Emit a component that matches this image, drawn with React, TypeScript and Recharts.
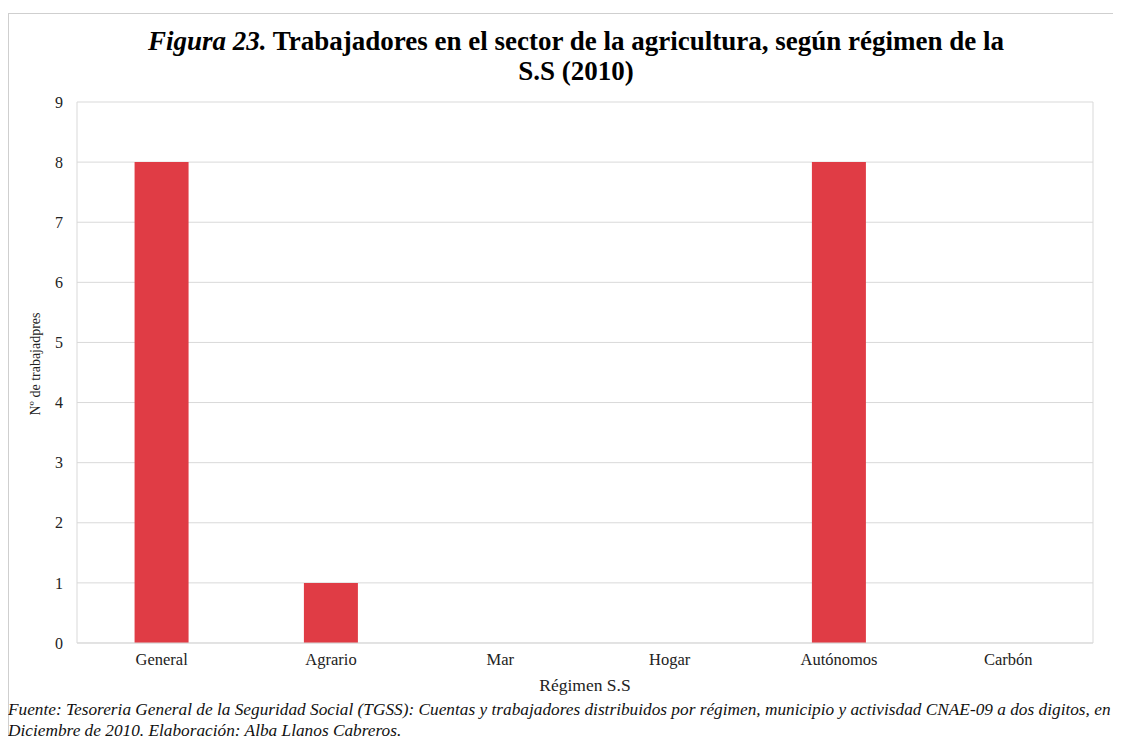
import React from 'react';
import { BarChart, Bar, XAxis, YAxis, CartesianGrid } from 'recharts';

// Régimen de la S.S and number of workers (2010)
const categories = ['General', 'Agrario', 'Mar', 'Hogar', 'Autónomos', 'Carbón'];
const workers = [8, 1, 0, 0, 8, 0];
const yTicks = [0, 1, 2, 3, 4, 5, 6, 7, 8, 9];

const data = categories.map((name, i) => ({ name, value: workers[i] }));

const SERIF = '"Liberation Serif", "Times New Roman", serif';
const BAR_COLOR = '#E03C45';
const GRID = '#d9d9d9';

export default function App() {
  return (
    <div style={{ paddingTop: 5, fontFamily: SERIF }}>
      <div
        style={{
          position: 'relative',
          width: 1112,
          height: 722,
          borderTop: '1px solid #cfcfcf',
          borderLeft: '1px solid #cfcfcf',
        }}
      >
        <div
          style={{
            position: 'absolute',
            left: 17,
            top: 12,
            width: 1100,
            textAlign: 'center',
            fontSize: 27,
            fontWeight: 'bold',
            lineHeight: '30px',
            color: '#000',
          }}
        >
          <i>Figura 23.</i> Trabajadores en el sector de la agricultura, según régimen de la
          <br />
          S.S (2010)
        </div>

        <BarChart
          width={1112}
          height={700}
          data={data}
          margin={{ top: 88, right: 28, bottom: 41, left: 0 }}
          barCategoryGap="34%"
          style={{ position: 'absolute', left: 0, top: 0 }}
        >
          <CartesianGrid
            stroke={GRID}
            vertical={true}
            verticalCoordinatesGenerator={({ offset }: any) => [offset.left, offset.left + offset.width]}
          />
          <XAxis
            dataKey="name"
            axisLine={{ stroke: GRID }}
            tickLine={false}
            tickSize={0}
            tickMargin={10}
            height={30}
            tick={{ fontFamily: SERIF, fontSize: 16.5, fill: '#222' }}
          />
          <YAxis
            domain={[0, 9]}
            ticks={yTicks}
            interval={0}
            width={68}
            axisLine={false}
            tickLine={false}
            tickSize={0}
            tickMargin={14}
            tick={{ fontFamily: SERIF, fontSize: 16, fill: '#222' }}
          />
          <Bar dataKey="value" fill={BAR_COLOR} isAnimationActive={false} />
        </BarChart>

        <div
          style={{
            position: 'absolute',
            left: 27,
            top: 350,
            transform: 'translate(-50%, -50%) rotate(-90deg)',
            whiteSpace: 'nowrap',
            fontSize: 14,
            color: '#222',
          }}
        >
          Nº de trabajadpres
        </div>

        <div
          style={{
            position: 'absolute',
            left: 476,
            top: 661,
            width: 200,
            textAlign: 'center',
            fontSize: 17.5,
            lineHeight: '20px',
            color: '#222',
          }}
        >
          Régimen S.S
        </div>

        <div
          style={{
            position: 'absolute',
            left: -1,
            top: 685,
            width: 1112,
            whiteSpace: 'nowrap',
            fontSize: 17.3,
            fontStyle: 'italic',
            lineHeight: '21px',
            color: '#111',
          }}
        >
          Fuente: Tesoreria General de la Seguridad Social (TGSS): Cuentas y trabajadores distribuidos por régimen, municipio y activisdad CNAE-09 a dos digitos, en
          <br />
          Diciembre de 2010. Elaboración: Alba Llanos Cabreros.
        </div>
      </div>
    </div>
  );
}
